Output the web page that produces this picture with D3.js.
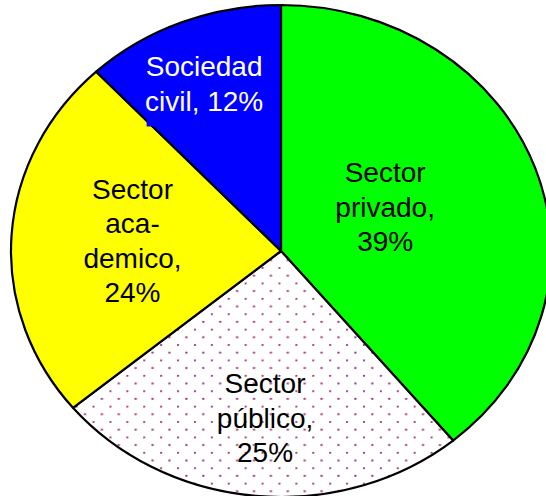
<!DOCTYPE html>
<html>
<head>
<meta charset="utf-8">
<script src="https://cdn.jsdelivr.net/npm/d3@7"></script>
<style>
  html, body { margin: 0; padding: 0; background: #fff; }
  svg { display: block; }
</style>
</head>
<body>
<div id="chart"></div>
<script>
// data
const categories = ["Sector privado", "Sector público", "Sector académico", "Sociedad civil"];
const values = [39, 25, 24, 12];
const labelLines = [
    ["Sector", "privado,", "39%"],
    ["Sector", "público,", "25%"],
    ["Sector", "aca-", "demico,", "24%"],
    ["Sociedad", "civil, 12%"]
];

// styling / layout
const fills = ["#00ff00", "url(#dots)", "#ffff00", "#0000ff"];
const textColors = ["#000", "#000", "#000", "#fff"];
const labelRadius = [0.41, 0.72, 0.55, 0.70];   // fraction of radius where labels sit
const labelTurn = [0, -0.7, -3.3, -2.4];         // degrees, nudge from slice middle

const width = 546, height = 496;
const cx = 281, cy = 251;
const rx = 270, ry = 246;
const lineHeight = 34.5;

const svg = d3.select('#chart').append('svg')
    .attr('width', width)
    .attr('height', height);

// dotted fill for the public sector slice
const pat = svg.append('defs').append('pattern')
    .attr('id', 'dots')
    .attr('patternUnits', 'userSpaceOnUse')
    .attr('x', 382.7).attr('y', 385.7)
    .attr('width', 15.4).attr('height', 15.4);
pat.append('rect').attr('width', 15.4).attr('height', 15.4).attr('fill', '#fff');
pat.append('circle').attr('cx', 0.8).attr('cy', 0.8).attr('r', 1.15).attr('fill', '#a8387f');
pat.append('circle').attr('cx', 8.5).attr('cy', 8.5).attr('r', 1.15).attr('fill', '#a8387f');

const pie = d3.pie().sort(null).value(d => d)(values);
const arc = d3.arc().innerRadius(0).outerRadius(ry);

// the pie is stretched horizontally in the original
const g = svg.append('g')
    .attr('transform', `translate(${cx},${cy}) scale(${rx / ry},1)`);

g.selectAll('.slice')
    .data(pie)
    .enter().append('path')
    .attr('class', 'slice')
    .attr('d', arc)
    .attr('fill', (d, i) => fills[i])
    .attr('stroke', '#000')
    .attr('stroke-width', 2.2)
    .attr('stroke-linejoin', 'round')
    .attr('vector-effect', 'non-scaling-stroke');

// labels
const labels = svg.append('g')
    .style('font-family', 'Arial, "Liberation Sans", sans-serif')
    .style('font-size', '28px');

pie.forEach((d, i) => {
    const a = (d.startAngle + d.endAngle) / 2 + labelTurn[i] * Math.PI / 180;
    const x = cx + rx * labelRadius[i] * Math.sin(a);
    const y = cy - ry * labelRadius[i] * Math.cos(a);
    const lines = labelLines[i];
    const top = y - (lines.length - 1) * lineHeight / 2;

    if (i === 3) {
        // the small label box has the slice colour behind it
        labels.append('rect')
            .attr('x', x - 57.5).attr('y', top - 27)
            .attr('width', 131).attr('height', 77)
            .attr('fill', '#0000ff');
    }

    const t = labels.append('text')
        .attr('text-anchor', 'middle')
        .attr('fill', textColors[i]);

    lines.forEach((s, k) => {
        t.append('tspan')
            .attr('x', x)
            .attr('y', top + k * lineHeight)
            .text(s);
    });
});
</script>
</body>
</html>
